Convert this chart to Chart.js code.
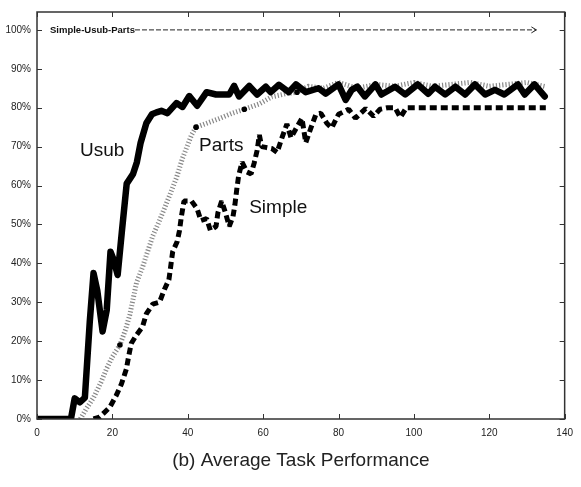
<!DOCTYPE html>
<html>
<head>
<meta charset="utf-8">
<style>
  body { margin: 0; background: #fff; }
  canvas { display: block; }
</style>
<script src="https://cdn.jsdelivr.net/npm/chart.js"></script>
</head>
<body>
<canvas id="perfChart" width="581" height="487"></canvas>
<script>
// tick labels
const xTicks = [0, 20, 40, 60, 80, 100, 120, 140];
const yTicks = [0, 10, 20, 30, 40, 50, 60, 70, 80, 90, 100];

// Usub (solid)
const usubX = [0, 9, 10, 11.4, 12.7, 14, 15, 16, 17.4, 18.5, 19.5, 20.3, 21.4, 22.5, 23.8, 25.5, 26.5, 27.5, 29, 30.5, 31.7, 33, 34.6, 37, 38.6, 40.4, 42.5, 45, 47.5, 51, 52.3, 53.6, 56.3, 58.4, 60.7, 62, 64.2, 66.8, 68.7, 71.3, 74.7, 76.6, 80, 81.9, 83.5, 85, 87, 89.8, 91.4, 95, 97.7, 101, 103.8, 105.6, 108.3, 111, 113.6, 116.2, 118.9, 121.5, 124, 127.6, 129.4, 132, 134.7];
const usubY = [0, 0, 5.3, 4.3, 5.5, 25, 37.5, 33, 22.5, 28, 43, 41, 37, 48, 60.5, 63, 66, 71, 76, 78.3, 78.8, 79.2, 78.6, 81.2, 80.2, 83, 80.5, 84, 83.4, 83.4, 85.6, 82.9, 85.6, 83.4, 85.4, 84, 85.9, 84, 86, 84, 85, 83.6, 86, 82, 84.6, 85.4, 82.9, 86, 83.4, 85.4, 83.4, 86, 83.6, 85.4, 83.4, 85.4, 83.4, 86, 83.4, 84.6, 83.4, 86, 83.4, 86, 82.9];

// Parts (gray hatched)
const partsX = [11.5, 13, 15, 17, 18.5, 20, 22, 23.5, 24.6, 26.4, 28, 29, 30.7, 32.5, 35, 37, 38.6, 41, 42.2, 45, 48.3, 51.8, 55, 59, 62.3, 66, 69, 72, 76, 80, 85, 90, 95, 100, 105, 110, 115, 120, 125, 130, 135];
const partsY = [0, 2.5, 5.5, 9.5, 13, 16, 19, 23, 26.7, 35, 39, 42, 47, 51, 57, 62, 67, 73, 75, 76, 77.2, 78.6, 79.6, 81, 82.8, 83.6, 84, 85.5, 85, 86.5, 85, 86, 85.5, 86.5, 85.5, 86, 86.5, 85.5, 86, 86.5, 85.4];
const partsDotX = [22, 42.2, 55, 69];
const partsDotY = [19, 75, 79.6, 84];

// Simple (thick dashed)
const simpleX = [15, 16.6, 19.3, 21, 22.4, 23.7, 24.3, 25, 26.4, 28, 29, 30.7, 32.5, 33.8, 35, 36, 37.2, 37.8, 38.3, 39, 41, 42.5, 43.5, 45, 46, 47.5, 48, 49, 50, 51, 52, 52.5, 53, 53.5, 54.4, 55.7, 56.8, 57.6, 58.4, 59, 59.6, 60.7, 62.3, 63.7, 65, 66.3, 67.4, 68.7, 70.3, 71.3, 72.6, 74, 75.3, 76.9, 78.2, 80, 82.7, 84.5, 87.2, 89.3, 91, 93, 95, 96.4, 98, 135];
const simpleY = [0, 0.5, 3, 6, 9, 12.8, 16, 19.4, 21.6, 23.7, 27, 29.5, 30, 33.3, 35.8, 43, 45.6, 48.4, 52, 56, 56, 54, 51, 51.5, 48.5, 49.5, 53, 56, 53, 49.5, 52, 55, 59, 62.5, 66, 63.5, 63, 65.7, 69, 73, 70, 69.8, 69.5, 68.5, 72.3, 75.8, 72.3, 74.6, 77.3, 71, 74.6, 78.3, 78.6, 76, 74.8, 78.3, 79.6, 77.3, 79.8, 77.8, 79.6, 80, 80, 77.5, 80, 80];

// "Simple-Usub-Parts" reference line at 100%
const summaryX = [26, 132.5];
const summaryY = [100, 100];

const seriesNames = ['Usub', 'Parts', 'Simple'];
const nameX = [11.4, 43, 56.3];
const nameY = [69, 70.3, 54.4];

const FONT = '"Liberation Sans", Arial, Helvetica, sans-serif';

function pts(xs, ys) {
  return xs.map((x, i) => ({ x: x, y: ys[i] }));
}

const decorations = {
  id: 'decorations',
  afterDraw(chart) {
    const ctx = chart.ctx;
    const a = chart.chartArea;
    const xs = chart.scales.x, ys = chart.scales.y;
    ctx.save();

    // frame + inward ticks
    ctx.strokeStyle = '#333';
    ctx.lineWidth = 1.5;
    ctx.strokeRect(a.left, a.top, a.right - a.left, a.bottom - a.top);
    ctx.lineWidth = 1;
    ctx.beginPath();
    xTicks.forEach(v => {
      const px = Math.round(xs.getPixelForValue(v)) + 0.5;
      ctx.moveTo(px, a.bottom); ctx.lineTo(px, a.bottom - 5);
      ctx.moveTo(px, a.top); ctx.lineTo(px, a.top + 5);
    });
    yTicks.forEach(v => {
      const py = Math.round(ys.getPixelForValue(v)) + 0.5;
      ctx.moveTo(a.left, py); ctx.lineTo(a.left + 5, py);
      ctx.moveTo(a.right, py); ctx.lineTo(a.right - 5, py);
    });
    ctx.stroke();

    // series names
    ctx.fillStyle = '#111';
    ctx.font = '19px ' + FONT;
    ctx.textBaseline = 'middle';
    ctx.textAlign = 'left';
    seriesNames.forEach((n, i) => {
      ctx.fillText(n, xs.getPixelForValue(nameX[i]), ys.getPixelForValue(nameY[i]));
    });

    // summary line label + arrow head
    const sy = ys.getPixelForValue(summaryY[0]);
    ctx.font = 'bold 9.5px ' + FONT;
    ctx.textAlign = 'right';
    ctx.fillText('Simple-Usub-Parts', xs.getPixelForValue(summaryX[0]), sy);
    const ex = xs.getPixelForValue(summaryX[1]);
    ctx.beginPath();
    ctx.moveTo(ex - 5, sy - 3); ctx.lineTo(ex, sy); ctx.lineTo(ex - 5, sy + 3);
    ctx.strokeStyle = '#222';
    ctx.stroke();

    // caption
    ctx.font = '19px ' + FONT;
    ctx.textAlign = 'center';
    ctx.fillStyle = '#222';
    ctx.fillText('(b) Average Task Performance', (a.left + a.right) / 2, 461);
    ctx.restore();
  }
};

new Chart(document.getElementById('perfChart').getContext('2d'), {
  type: 'line',
  data: {
    datasets: [
      {
        label: 'Parts dots',
        data: pts(partsDotX, partsDotY),
        showLine: false,
        pointRadius: 2.8,
        pointBackgroundColor: '#000',
        pointBorderWidth: 0
      },
      {
        label: 'Usub',
        data: pts(usubX, usubY),
        borderColor: '#000',
        borderWidth: 6.5,
        borderJoinStyle: 'round',
        borderCapStyle: 'round',
        pointRadius: 0
      },
      {
        label: 'Parts',
        data: pts(partsX, partsY),
        borderColor: '#888',
        borderWidth: 5,
        borderDash: [1.2, 2],
        borderJoinStyle: 'bevel',
        pointRadius: 0
      },
      {
        label: 'Simple',
        data: pts(simpleX, simpleY),
        borderColor: '#000',
        borderWidth: 5,
        borderDash: [7, 4],
        borderJoinStyle: 'bevel',
        pointRadius: 0
      },
      {
        label: 'Simple-Usub-Parts',
        data: pts(summaryX, summaryY),
        borderColor: '#222',
        borderWidth: 1,
        borderDash: [5, 2],
        pointRadius: 0
      }
    ]
  },
  options: {
    responsive: false,
    animation: false,
    events: [],
    layout: { padding: { top: 4, right: 14, left: 0, bottom: 0 } },
    plugins: {
      legend: { display: false },
      tooltip: { enabled: false }
    },
    scales: {
      x: {
        type: 'linear',
        min: 0,
        max: 140,
        grid: { display: false, drawTicks: false },
        border: { display: false },
        afterBuildTicks: s => { s.ticks = xTicks.map(v => ({ value: v })); },
        afterFit: s => { s.height = 68; },
        ticks: { color: '#222', padding: 8, font: { family: FONT, size: 10 } }
      },
      y: {
        type: 'linear',
        min: 0,
        max: 104.6,
        grid: { display: false, drawTicks: false },
        border: { display: false },
        afterBuildTicks: s => { s.ticks = yTicks.map(v => ({ value: v })); },
        afterFit: s => { s.width = 37; },
        ticks: { color: '#222', padding: 6, font: { family: FONT, size: 10 }, callback: v => v + '%' }
      }
    }
  },
  plugins: [decorations]
});
</script>
</body>
</html>
